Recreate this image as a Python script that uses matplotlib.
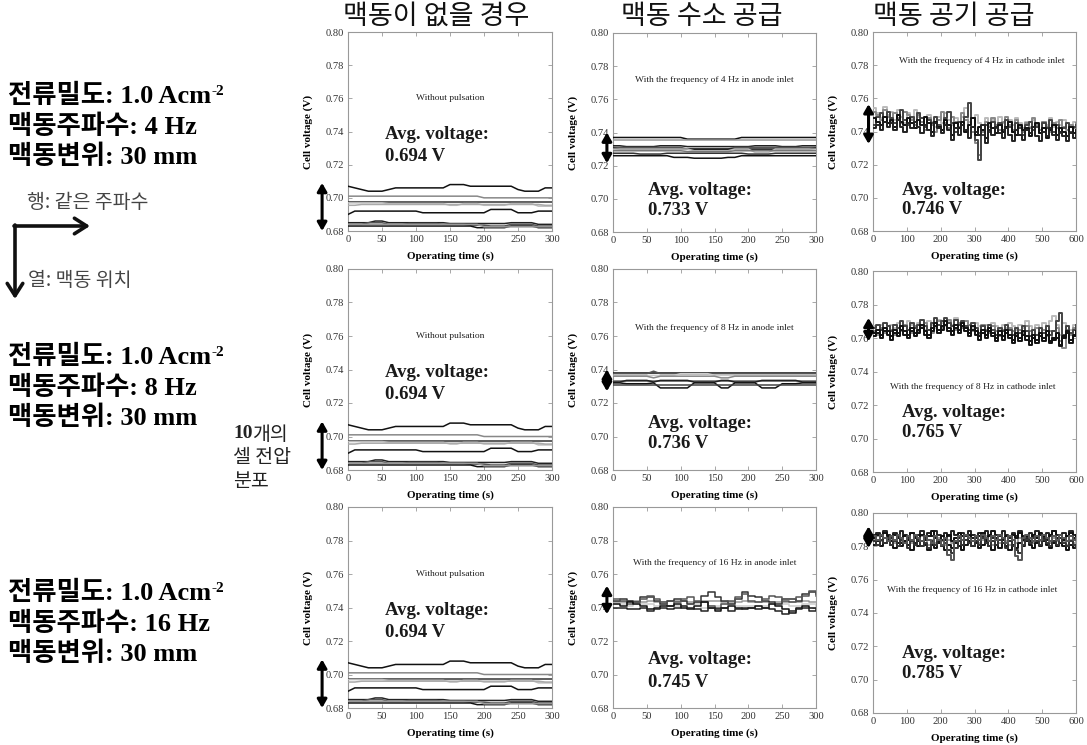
import numpy as np
import matplotlib
matplotlib.use("Agg")
import matplotlib.pyplot as plt

plt.rcParams['font.family'] = ['Liberation Serif', 'Noto Sans CJK KR']

# ---------------- data (cell voltages in mV) ----------------
COL_TITLES = ["맥동이 없을 경우", "맥동 수소 공급", "맥동 공기 공급"]
ROW_FREQ = [4, 8, 16]
AVG_V = [[0.694, 0.733, 0.746],
         [0.694, 0.736, 0.765],
         [0.694, 0.745, 0.785]]
Y_TICKS = [0.68, 0.70, 0.72, 0.74, 0.76, 0.78, 0.80]

# without pulsation (10 s sampling, 0-300 s)
N1 = [707,706,705,704,704,704,705,706,706,706,706,706,706,706,706,708,708,708,707,707,707,707,707,707,707,705,704,704,704,706,706]
N2 = [701,701,701,701,701,701,701,701,701,701,701,701,701,701,701,701,701,701,701,701,700,700,700,700,700,700,700,700,700,700,700]
N3 = [697.5,697.5,697.5,697.5,697.5,697.5,697.5,697.5,697.5,697.5,697.5,697.5,697.5,697.5,697.5,697.5,697.5,697.5,697.5,697.5,697.5,697.5,697.5,697.5,697.5,697.5,697.5,697.5,697.5,697.5,697.5]
N4 = [697,697,697,697,697,697,696.5,696.5,696.5,696.5,696.5,696.5,696.5,696.5,696.5,695.5,695.5,696.5,696.5,696.5,695.5,695.5,695.5,695.5,696.5,696.5,696.5,696.5,695,695,695]
N5 = [695.5,695.5,696,696,696,696,696,696,696,696,696,696,696,696,696,696,696,696,696,696,696,696,696,696,696,696,696,696,696,695.5,695.5]
N6 = [690,692,692,692,692,692,692,692,692,692,692,691,691,691,691,691,691,691,691,691,691,693,693,693,693,691,691,691,692,692,692]
N7 = [685,685,685,685,686,686,685,685,685,685,685,685,685,685,685,684.5,684.5,684.5,684.5,684.5,684.5,684.5,684.5,684.5,685,685,685,685,684,684,684]
N8 = [684,684,684,685,685,685,684,684,684,684.5,684.5,684.5,684.5,684.5,684,684,684,684,683.5,683.5,683.5,683,683,683,684,684,684,684,683,683,683]
N9 = [683,683,683,683,683,683,683,683,683,683,683,683,683,683,683,683,683,683,683,682,682,682,682,682,683,683,683,683,682,682,682]
N10 = [684,684,684,684,684,684,684,684,684,684,684,684,684,684,684,684,684,684,684,684,682.5,682.5,682.5,682.5,682.5,682.5,682.5,682.5,682.5,682.5,682.5]
NOPULSE = [N1, N2, N3, N4, N5, N6, N7, N8, N9, N10]
NOPULSE_COLORS = ['#111111', '#888888', '#333333', '#bbbbbb', '#aaaaaa', '#111111', '#222222', '#555555', '#111111', '#999999']

# anode 4 Hz (10 s sampling)
A1 = [737,737,737,737,737,737,737,737,737,737,737,736,736,736,736,736,736,736,736,737,737,737,737,737,737,737,737,737,737,737,737]
A2 = [735.5,735.5,735.5,735.5,735.5,735.5,735.5,735.5,735.5,735.5,735.5,735.5,735.5,735.5,735.5,735.5,735.5,735.5,735.5,735.5,735.5,735.5,735.5,735.5,735.5,735.5,735.5,735.5,735.5,735.5,735.5]
A3 = [732,732,731.5,731.5,731.5,731.5,731.5,732,732,732,732,731.5,731.5,731.5,731.5,731.5,731.5,731.5,731.5,731.5,731.5,732,732,732,732,731.5,731.5,731.5,732,732,732]
A4 = [731,731,731,731,731,731,731,731,731,731,731,730,730,730,730,730,730,730,731,731,731,731,731,731,731,731,731,731,731,731,731]
A5 = [730.5,730,730,730,730,730,730,730,730,730,730,730,730,730,730,730,730,730,730,730,730,730,730,730,730,730,730,730,730,730,730.5]
A6 = [730,730,730,730,730,730,730,730,730,730,730,730,729,729,729,729,729,729,730,730,730,728,728,728,730,730,730,730,730,730,730]
A7 = [729,729,729,729,729,729,729,729,729,729,729,728.5,728.5,728.5,728.5,728.5,728.5,728.5,729,729,729,729,729,729,729,729,729,729,729,729,729]
A8 = [727.5,727.5,727.5,727.5,727,727,727,727,727.5,727.5,727.5,727.5,727.5,727.5,727.5,727.5,727.5,727.5,727.5,727.5,727,727,727,727,727.5,727.5,727.5,727.5,727.5,727.5,727.5]
A9 = [726,726,726,726,726,726,726,726,726,725,725,725,724.5,724.5,724.5,724.5,724.5,725,725,726,726,726,726,726,726,726,726,726,726,726,726]
ANODE4 = [A1, A2, A3, A4, A5, A6, A7, A8, A9]
ANODE4_COLORS = ['#111111', '#999999', '#222222', '#555555', '#111111', '#bbbbbb', '#777777', '#333333', '#111111']

# anode 8 Hz (10 s sampling)
B1 = [738,738,738,738,738,738,738,738,738,738,738,738,738,738,738,738,738,738,738,738,738,738,738,738,738,738,738,738,738,738,738]
B2 = [737.5,737.5,737.5,737.5,737.5,737.5,739,737.5,737.5,737.5,737.5,737.5,737.5,737.5,737.5,737.5,737.5,737.5,737.5,737.5,737.5,737.5,737.5,737.5,737.5,737.5,737.5,737.5,737.5,737.5,737.5]
B3 = [736.5,736.5,736.5,736.5,736.5,736.5,736.5,736.5,736.5,736.5,737.5,737.5,737.5,737.5,737.5,736.5,736.5,736.5,736.5,736.5,736.5,736.5,736.5,736.5,736.5,736.5,736.5,736.5,736.5,736.5,736.5]
B4 = [736,736,736,736,736,736,735,736,736,736,736,736,736,736,736,736,735,735,736,736,736,736,736,736,736,736,736,736,736,736,736]
B5 = [732.5,732.5,733.5,733.5,733.5,733.5,732.5,733.5,733.5,733.5,733.5,733.5,732.5,732.5,732.5,732.5,733.5,733.5,732.5,732.5,732.5,732.5,733.5,733.5,733.5,733.5,733.5,733.5,732.5,732.5,732.5]
B6 = [732,732,731.5,731.5,731.5,731.5,732,729,729,729,729,729,732,732,732,732,729,729,732,732,732,732,729,729,729,731.5,731.5,731.5,732,732,732]
B7 = [731,731,731,731,731,731,731,731,731,731,731,731,731,731,731,731,731,731,731,731,731,731,731,731,731,731,731,731,731,731,731]
B8 = [733,733,733,733,733,733,733,733,733,733,733,733,733,733,733,733,733,733,733,733,733,733,733,733,733,733,733,733,733,733,733]
ANODE8 = [B1, B2, B3, B4, B8, B5, B6, B7]
ANODE8_COLORS = ['#111111', '#555555', '#cccccc', '#888888', '#666666', '#222222', '#111111', '#444444']

# anode 16 Hz (10 s sampling, step plot)
C1 = [744,745,744,743,746,746,744,742,744,745,744,742,743,747,749,746,744,742,745,749,747,746,744,743,742,745,745,744,748,749,748]
C2 = [742,741,743,742,741,739,740,741,741,742,740,739,741,743,740,738,740,741,740,739,740,741,740,742,741,739,737,740,741,740,740]
C3 = [743,743,744,744,743,744,743,743,744,744,744,743,743,744,744,744,743,743,743,744,743,743,743,742,743,743,743,743,744,743,743]
C4 = [742,742,741,742,742,742,741,742,741,741,741,742,742,740,741,741,742,742,741,741,741,741,741,742,742,742,741,741,742,742,741]
C5 = [745,744,742,743,745,747,745,743,741,743,745,746,744,743,741,740,742,744,746,748,744,743,745,747,746,744,743,746,747,750,747]
C6 = [740,740,739,739,740,738,739,740,739,740,741,740,739,738,740,739,740,738,739,740,740,739,740,739,738,736,738,739,740,738,739]
ANODE16 = [C3, C4, C1, C5, C2, C6]
ANODE16_COLORS = ['#999999', '#cccccc', '#333333', '#555555', '#111111', '#222222']

# cathode 4 Hz (10 s sampling, 0-600 s)
D1 = [748,746,744,749,745,747,743,750,746,744,748,745,742,747,744,749,745,740,746,743,741,747,744,738,745,742,746,740,744,748,738,743,741,736,745,742,739,744,740,743,746,740,738,744,741,742,737,743,745,739,742,736,741,744,738,742,740,737,743,739,741]
D2 = [744,749,751,746,752,748,745,750,753,747,744,749,746,751,748,743,747,745,749,744,741,748,752,745,740,746,744,749,757,748,735,723,738,744,740,746,742,745,741,747,743,740,745,742,738,744,746,741,743,739,745,742,747,740,744,739,742,745,740,743,744]
D3 = [752,750,747,753,749,746,751,748,745,752,750,747,744,750,746,741,748,744,740,747,752,745,742,749,746,743,751,747,744,740,733,726,740,746,743,748,744,741,746,749,744,741,747,743,740,745,742,748,744,741,746,743,740,745,742,747,743,741,744,742,745]
D4 = [754,751,748,755,750,752,747,753,749,745,751,748,753,749,746,744,750,746,743,749,745,751,747,744,748,742,749,754,746,743,750,745,741,748,744,747,743,749,745,742,747,744,748,745,742,746,743,747,744,741,746,744,748,743,746,744,747,745,743,746,744]
D5 = [742,744,741,746,743,745,741,747,743,740,745,742,746,743,739,744,741,737,745,742,739,744,741,735,742,738,744,741,736,743,740,738,744,733,741,738,743,739,736,742,738,734,741,738,735,741,739,743,737,734,740,737,742,738,735,740,737,734,739,736,738]
CATH4 = [D4, D3, D2, D1, D5]
CATH4_COLORS = ['#bbbbbb', '#888888', '#444444', '#111111', '#222222']

# cathode 8 Hz
E1 = [763,765,762,766,764,761,765,763,767,764,762,766,763,765,768,764,762,766,769,765,767,770,766,764,768,765,769,766,763,767,764,761,765,762,766,763,760,764,761,765,762,759,763,760,764,761,758,762,759,763,760,764,758,760,763,756,761,764,759,762,764]
E2 = [766,768,765,769,767,764,768,766,770,767,765,769,766,768,771,767,765,769,772,768,770,772,769,767,771,768,770,767,765,769,766,763,767,764,768,765,762,766,764,768,765,762,766,763,767,764,761,765,762,766,763,767,762,764,770,775,762,767,763,765,768]
E3 = [764,762,766,763,767,765,762,766,764,768,765,763,767,764,766,769,765,763,767,770,766,768,771,767,765,769,766,770,768,764,766,762,768,765,763,767,764,761,765,763,766,764,762,765,763,767,764,762,766,763,765,761,764,760,766,758,754,765,762,766,763]
E4 = [767,765,768,766,764,768,766,769,765,767,770,768,766,769,767,765,770,768,766,771,769,767,770,768,772,769,767,770,768,766,769,767,765,768,766,769,767,765,768,766,769,767,765,768,766,770,767,765,768,766,769,767,770,773,768,762,769,767,765,768,767]
E5 = [761,763,760,764,762,759,763,761,765,762,760,764,761,763,766,762,760,764,767,763,765,768,764,762,766,763,767,764,761,765,762,759,763,760,764,761,758,762,759,763,760,757,761,758,762,759,756,760,757,761,758,762,757,759,760,755,760,763,757,761,762]
CATH8 = [E4, E3, E2, E1, E5]
CATH8_COLORS = ['#bbbbbb', '#888888', '#444444', '#111111', '#111111']

# cathode 16 Hz
F1 = [785,787,784,788,786,783,787,785,782,786,784,788,785,783,787,784,786,789,785,783,786,784,787,783,785,788,786,784,787,785,783,786,788,784,786,789,785,787,784,786,783,787,785,788,784,786,783,787,785,788,786,784,787,789,785,787,784,786,788,785,787]
F2 = [783,781,784,782,785,781,783,780,784,782,779,783,781,784,780,782,779,783,781,784,780,782,778,776,779,783,781,784,782,780,783,781,785,782,780,783,781,784,782,779,783,780,778,776,781,784,782,785,783,781,784,782,780,783,781,785,782,780,783,781,779]
F3 = [786,784,787,785,783,786,784,787,785,782,786,784,787,785,783,786,784,782,786,784,781,785,775,772,783,786,784,787,785,783,786,784,787,785,783,786,784,787,785,782,786,784,774,772,785,787,785,783,786,784,787,785,783,786,784,787,785,783,786,784,785]
F4 = [784,786,783,785,787,784,782,785,783,786,784,782,785,783,786,784,781,784,782,785,783,781,784,782,785,783,781,784,786,783,785,782,784,786,783,781,784,782,785,783,781,784,782,785,783,786,784,782,785,783,786,784,782,785,783,785,783,781,784,782,784]
F5 = [781,783,780,782,784,781,779,782,780,783,781,778,782,780,783,781,778,781,779,782,780,778,781,779,782,780,778,781,783,780,782,779,781,783,780,778,781,779,782,780,778,781,779,782,780,783,781,779,782,780,783,781,779,782,780,782,780,778,781,779,781]
F6 = [787,788,786,789,787,785,788,786,789,787,785,788,786,787,789,785,788,786,789,787,784,788,786,789,787,785,788,786,789,787,785,788,786,789,787,785,787,786,789,787,785,788,786,789,786,785,788,786,789,787,785,788,786,789,787,785,788,786,789,787,786]
CATH16 = [F4, F6, F1, F5, F2, F3]
CATH16_COLORS = ['#999999', '#222222', '#111111', '#111111', '#333333', '#555555']

CAPTIONS = [["Without pulsation", "With the frequency of 4 Hz in anode inlet", "With the frequency of 4 Hz in cathode inlet"],
            ["Without pulsation", "With the frequency of 8 Hz in anode inlet", "With the frequency of 8 Hz in cathode inlet"],
            ["Without pulsation", "With the frequency of 16 Hz in anode inlet", "With the frequency of 16 Hz in cathode inlet"]]
ARROW_RANGE = [[(0.709, 0.680), (0.740, 0.7215), (0.7565, 0.7325)],
               [(0.709, 0.680), (0.7400, 0.7270), (0.7720, 0.7580)],
               [(0.709, 0.680), (0.7530, 0.7360), (0.7920, 0.7790)]]

# ---------------- layout ----------------
W, H = 1087, 745
fig = plt.figure(figsize=(W / 100, H / 100), dpi=100)
fig.patch.set_facecolor('white')

bg = fig.add_axes([0, 0, 1, 1], zorder=0)
bg.set_xlim(0, W)
bg.set_ylim(H, 0)
bg.axis('off')

COL_X = [(348, 552), (613, 816), (873, 1076)]
ROW_Y = [[(32, 231), (33, 232), (32, 231)],
         [(269, 470), (269, 470), (271, 472)],
         [(507, 708), (507, 708), (513, 713)]]

PANEL_DATA = [
    [(NOPULSE, NOPULSE_COLORS, 10, False), (ANODE4, ANODE4_COLORS, 10, False), (CATH4, CATH4_COLORS, 10, True)],
    [(NOPULSE, NOPULSE_COLORS, 10, False), (ANODE8, ANODE8_COLORS, 10, False), (CATH8, CATH8_COLORS, 10, True)],
    [(NOPULSE, NOPULSE_COLORS, 10, False), (ANODE16, ANODE16_COLORS, 10, True), (CATH16, CATH16_COLORS, 10, True)],
]
LINE_W = [1.1, 1.1, 1.4]
XMAX = [300, 300, 600]
XSTEP = [50, 50, 100]
CAP_POS = [[(150, 0.760), (150, 0.7717), (322, 0.7825)],
           [(150, 0.760), (150, 0.7648), (294, 0.7307)],
           [(150, 0.760), (150, 0.7666), (293, 0.7538)]]
AVG_POS = [[(54, 0.738, 0.725), (52, 0.7053, 0.6927), (86, 0.7047, 0.6927)],
           [(54, 0.738, 0.725), (52, 0.708, 0.696), (86, 0.7154, 0.7033)],
           [(54, 0.738, 0.725), (52, 0.7087, 0.6955), (86, 0.716, 0.7036)]]
ARROW_X = [-0.127, -0.03, -0.022]

for r in range(3):
    for c in range(3):
        (x0, x1) = COL_X[c]
        (y0, y1) = ROW_Y[r][c]
        ax = fig.add_axes([x0 / W, 1 - y1 / H, (x1 - x0) / W, (y1 - y0) / H], zorder=2)
        series, colors, step, steps = PANEL_DATA[r][c]
        for v, col in zip(series, colors):
            vv = np.asarray(v, dtype=float) / 1000.0
            t = np.arange(len(vv)) * step
            ax.plot(t, vv, color=col, lw=LINE_W[c],
                    drawstyle='steps-post' if steps else 'default', zorder=3)
        ax.set_xlim(0, XMAX[c])
        ax.set_ylim(0.68, 0.80)
        ax.set_xticks(np.arange(0, XMAX[c] + 1, XSTEP[c]))
        ax.set_yticks(Y_TICKS)
        ax.set_yticklabels([f"{y:.2f}" for y in Y_TICKS])
        for s in ax.spines.values():
            s.set_color('#999999')
            s.set_linewidth(0.8)
        ax.tick_params(direction='in', length=3, width=0.6, color='#999999',
                       top=True, right=True, labelsize=7.6, labelcolor='#333333', pad=3)
        ax.set_xlabel("Operating time (s)", fontsize=8, fontweight='bold', labelpad=5)
        ax.set_ylabel("Cell voltage (V)", fontsize=8, fontweight='bold')
        ax.yaxis.set_label_coords(-0.17, 0.5)
        cx, cy = CAP_POS[r][c]
        ax.text(cx, cy, CAPTIONS[r][c], fontsize=6.8, ha='center', va='center', color='#222222')
        ax_, l1, l2 = AVG_POS[r][c]
        ax.text(ax_, l1, "Avg. voltage:", fontsize=13.5, fontweight='bold', ha='left', va='center', color='#1a1a1a')
        ax.text(ax_, l2, f"{AVG_V[r][c]:.3f} V", fontsize=13.5, fontweight='bold', ha='left', va='center', color='#1a1a1a')
        top, bot = ARROW_RANGE[r][c]
        ax.annotate('', xy=(ARROW_X[c], bot), xytext=(ARROW_X[c], top),
                    xycoords=('axes fraction', 'data'), textcoords=('axes fraction', 'data'),
                    arrowprops=dict(arrowstyle='<|-|>,head_length=0.35,head_width=0.2',
                                    lw=2.2, color='black', mutation_scale=14, shrinkA=0, shrinkB=0),
                    annotation_clip=False)

# column titles
TITLE_X = [436, 702, 954]
for x, title in zip(TITLE_X, COL_TITLES):
    bg.text(x, 16, title, fontsize=19.5, family='Noto Sans CJK KR', ha='center', va='center', color='#111111')

# left condition blocks
ROW_TEXT_Y = [(96, 127, 157), (357, 388, 418), (593, 624, 654)]
FAM = ['Liberation Serif', 'Noto Sans CJK KR']
for (ya, yb, yc), f in zip(ROW_TEXT_Y, ROW_FREQ):
    t1 = bg.text(8, ya, "전류밀도: 1.0 Acm", fontsize=19, fontweight='bold', family=FAM, ha='left', va='center')
    bg.annotate("-2", xy=(1, 1), xycoords=t1, xytext=(0.5, -1), textcoords='offset points',
                fontsize=11, fontweight='bold', family=FAM, ha='left', va='top')
    bg.text(8, yb, f"맥동주파수: {f} Hz", fontsize=19, fontweight='bold', family=FAM, ha='left', va='center')
    bg.text(8, yc, "맥동변위: 30 mm", fontsize=19, fontweight='bold', family=FAM, ha='left', va='center')

# row / column legend arrows
bg.text(27, 202, "행: 같은 주파수", fontsize=14, family='Noto Sans CJK KR', color='#444444', ha='left', va='center')
bg.text(28, 280, "열: 맥동 위치", fontsize=14, family='Noto Sans CJK KR', color='#444444', ha='left', va='center')
bg.annotate('', xy=(90, 226), xytext=(14, 226),
            arrowprops=dict(arrowstyle='->,head_length=0.55,head_width=0.35', lw=2.6, color='#111111',
                            mutation_scale=16, shrinkA=0, shrinkB=0))
bg.annotate('', xy=(15, 299), xytext=(15, 225),
            arrowprops=dict(arrowstyle='->,head_length=0.55,head_width=0.35', lw=2.6, color='#111111',
                            mutation_scale=16, shrinkA=0, shrinkB=0))

# "10 cell voltage distribution" note
t10 = bg.text(233, 434, "10", fontsize=14, fontweight='bold', color='#222222', ha='left', va='center')
bg.annotate("개의", xy=(1, 0.5), xycoords=t10, xytext=(0, 0), textcoords='offset points',
            fontsize=14, family='Noto Sans CJK KR', color='#222222', ha='left', va='center')
for y, s in zip((458, 481), ("셀 전압", "분포")):
    bg.text(233, y, s, fontsize=14, family='Noto Sans CJK KR', color='#222222', ha='left', va='center')

fig.savefig("out.png", dpi=100)
